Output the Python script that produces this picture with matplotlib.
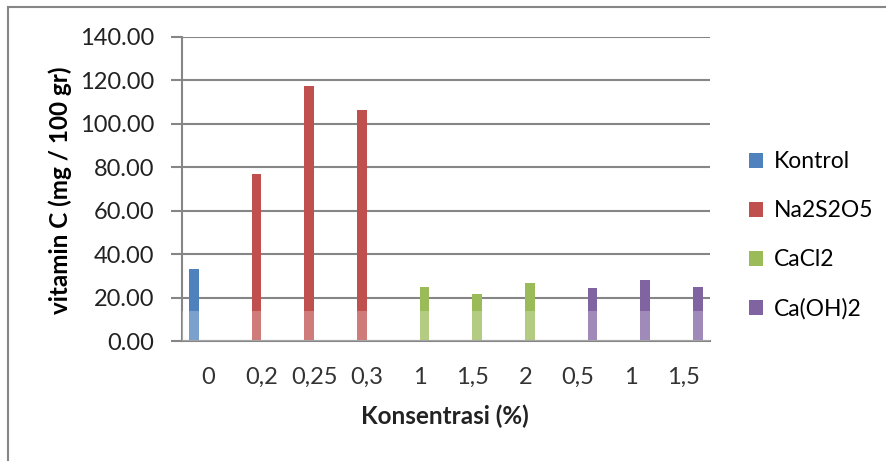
import matplotlib
matplotlib.use("Agg")
import matplotlib.pyplot as plt
from matplotlib.lines import Line2D
import numpy as np

categories = ["0", "0,2", "0,25", "0,3", "1", "1,5", "2", "0,5", "1", "1,5"]
series_names = ["Kontrol", "Na2S2O5", "CaCl2", "Ca(OH)2"]
kontrol = [33.2, 0, 0, 0, 0, 0, 0, 0, 0, 0]
na2s2o5 = [0, 77.1, 117.6, 106.5, 0, 0, 0, 0, 0, 0]
cacl2 = [0, 0, 0, 0, 25.0, 21.5, 26.7, 0, 0, 0]
caoh2 = [0, 0, 0, 0, 0, 0, 0, 24.6, 28.0, 25.0]
colors = ["#4F81BD", "#C0504D", "#9BBB59", "#8064A2"]
yticks = [0, 20, 40, 60, 80, 100, 120, 140]

W, H = 887, 461
fig = plt.figure(figsize=(W / 100, H / 100), dpi=100)
plt.rcParams['font.family'] = ['Lato', 'DejaVu Sans']

ax = fig.add_axes([182 / W, 1 - 341 / H, (710 - 182) / W, (341 - 37) / H])
x = np.arange(len(categories))
bw = 0.18
all_series = [kontrol, na2s2o5, cacl2, caoh2]
for i, (vals, c, name) in enumerate(zip(all_series, colors, series_names)):
    ax.bar(x + (i - 1.5) * bw, vals, width=bw, color=c, label=name, zorder=2)

ax.set_xlim(-0.5, len(categories) - 0.5)
ax.set_ylim(0, 140)
ax.set_yticks(yticks)
ax.set_yticklabels([f"{v:.2f}" for v in yticks], fontsize=17, color="#222222")
ax.set_xticks(x)
ax.set_xticklabels(categories, fontsize=17, color="#333333")
ax.tick_params(axis='x', length=0, pad=18.5)
ax.tick_params(axis='y', length=8, width=1.5, color="#868686", pad=12)
ax.yaxis.grid(True, color="#868686", linewidth=1.5, zorder=1)
ax.set_axisbelow(True)
for s in ["top", "right"]:
    ax.spines[s].set_visible(False)
ax.spines["left"].set_color("#868686")
ax.spines["left"].set_linewidth(1.5)
ax.spines["bottom"].set_color("#868686")
ax.spines["bottom"].set_linewidth(1.5)

# lighter band (scan overlay)
ax.axhspan(0, 14, color="white", alpha=0.25, zorder=3, linewidth=0)

ax.set_ylabel("vitamin C (mg / 100 gr)", fontsize=17.5, fontweight="bold", va="center")
ax.yaxis.set_label_coords(-0.231, 0.497)
ax.set_xlabel("Konsentrasi (%)", fontsize=17.5, fontweight="bold", color="#222222", va="center")
ax.xaxis.set_label_coords(0.498, -0.247)

leg = ax.legend(loc="center left", bbox_to_anchor=(1.073, 0.347), frameon=False,
                fontsize=16.5, handlelength=0.65, handleheight=0.65,
                labelspacing=1.22, handletextpad=0.45, borderaxespad=0, borderpad=0)

# outer frame
fig.add_artist(Line2D([8 / W, 1], [1 - 7 / H, 1 - 7 / H], color="#868686", linewidth=1.5,
                      transform=fig.transFigure))
fig.add_artist(Line2D([8 / W, 8 / W], [0, 1 - 7 / H], color="#868686", linewidth=1.5,
                      transform=fig.transFigure))

fig.savefig("out.png", dpi=100)
